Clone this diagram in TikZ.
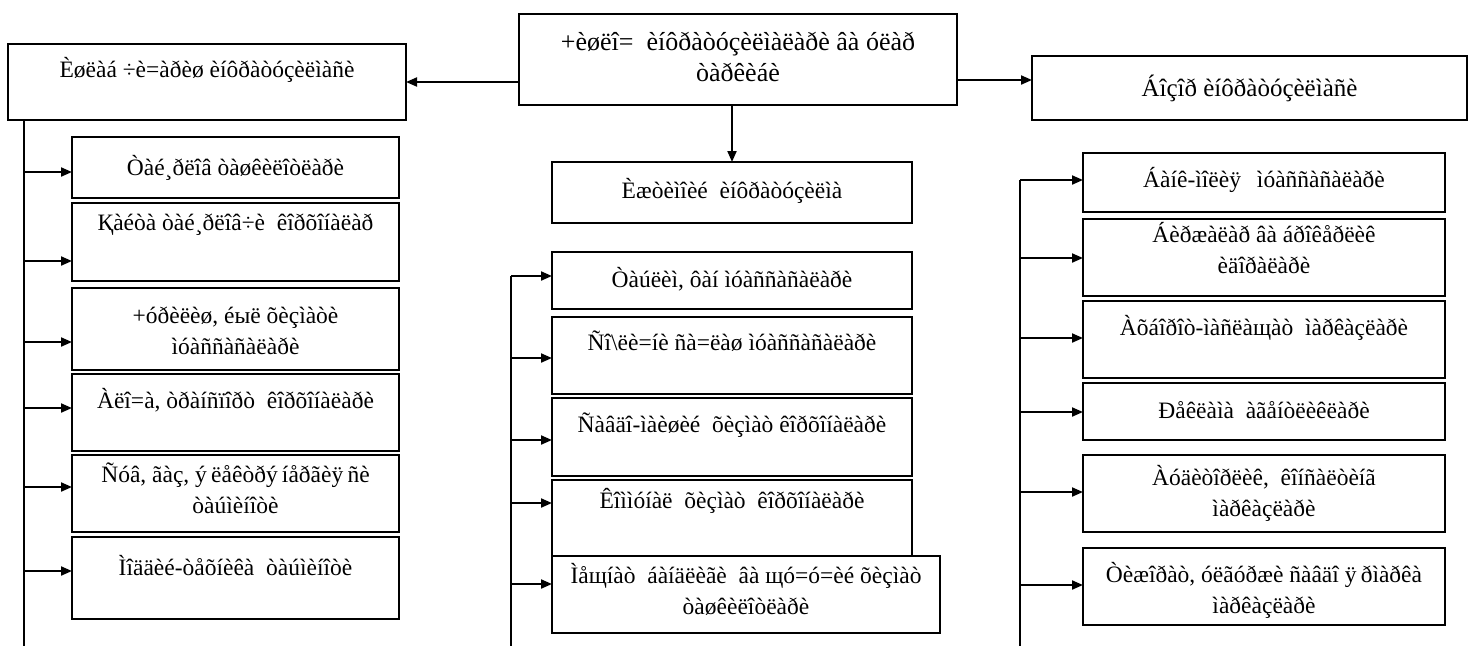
\documentclass[tikz,border=0pt]{standalone}
\usepackage{fontspec}
\setmainfont{Liberation Serif}
\usetikzlibrary{arrows.meta}
\tikzset{
  box/.style={draw, line width=2pt, inner sep=0pt, outer sep=0pt, anchor=north west},
  link/.style={line width=2pt},
  arr/.style={link, -{Triangle[length=11pt,width=9pt]}},
}
% box: [font size], name, left, top, width, height, first baseline below top, text
\newcommand\bx[8][23.5]{%
  \node[box] (#2) at (#3,#4)
    {\parbox[c][#6pt][t]{#5pt}{\fontsize{#1}{31}\selectfont\centering
      \vspace*{\dimexpr#7pt-0.7\baselineskip\relax}\strut #8\par}};}
% slightly wider y-acute / y-dieresis
\newcommand\yy[1]{#1\kern0.18em}
\begin{document}
\begin{tikzpicture}[x=1pt,y=-1pt]
\useasboundingbox (0,0) rectangle (1473,646);

% header row
\bx[26]{top}{519}{14}{438}{91}{36}{+èøëî=~ èíôðàòóçèëìàëàðè âà óëàð\\òàðêèáè}
\bx{lh}{8}{44}{398}{76}{33}{Èøëàá ÷è=àðèø èíôðàòóçèëìàñè}
\bx[25]{rh}{1032}{56}{435}{64}{40}{Áîçîð èíôðàòóçèëìàñè}

% left column
\bx{l1}{72}{137}{327}{61}{38}{Òàé¸ðëîâ òàøêèëîòëàðè}
\bx{l2}{72}{203}{327}{78}{27}{Қàéòà òàé¸ðëîâ÷è~ êîðõîíàëàð}
\bx{l3}{72}{288}{327}{82}{35}{+óðèëèø, éыë õèçìàòè\\ìóàññàñàëàðè}
\bx{l4}{72}{374}{327}{77}{34}{Àëî=à, òðàíñïîðò~ êîðõîíàëàðè}
\bx{l5}{72}{455}{327}{77}{27}{Ñóâ, ãàç, \yy{ý}ëåêòð\yy{ý}íåðãè\yy{ÿ}ñè\\òàúìèíîòè}
\bx{l6}{72}{537}{327}{82}{38}{Ìîääèé-òåõíèêà~ òàúìèíîòè}

% centre column
\bx{ij}{552}{162}{360}{61}{36}{Èæòèìîèé~ èíôðàòóçèëìà}
\bx{c1}{552}{252}{360}{57}{35}{Òàúëèì, ôàí ìóàññàñàëàðè}
\bx{c2}{552}{317}{360}{77}{33}{Ñî\textbackslash ëè=íè ñà=ëàø ìóàññàñàëàðè}
\bx{c3}{552}{398}{360}{78}{34}{Ñàâäî-ìàèøèé~ õèçìàò êîðõîíàëàðè}
\bx{c4}{552}{480}{360}{76}{28}{Êîììóíàë~ õèçìàò~ êîðõîíàëàðè}
\bx{c5}{552}{556}{388}{77}{27}{Ìåщíàò~ áàíäëèãè~ âà щó=ó=èé õèçìàò\\òàøêèëîòëàðè}

% right column
\bx{r1}{1083}{153}{362}{59}{34}{Áàíê-ìîëè\yy{ÿ}~ ìóàññàñàëàðè}
\bx{r2}{1083}{219}{362}{77}{23}{Áèðæàëàð âà áðîêåðëèê\\èäîðàëàðè}
\bx{r3}{1083}{301}{362}{77}{34}{Àõáîðîò-ìàñëàщàò~ ìàðêàçëàðè}
\bx{r4}{1083}{383}{362}{57}{35}{Ðåêëàìà~ àãåíòëèêëàðè}
\bx{r5}{1083}{455}{362}{77}{30}{Àóäèòîðëèê,~ êîíñàëòèíã\\ìàðêàçëàðè}
\bx{r6}{1083}{548}{362}{77}{34}{Òèæîðàò, óëãóðæè ñàâäî \yy{ÿ}ðìàðêà\\ìàðêàçëàðè}

% header connectors
\coordinate (tl) at (519,82);
\coordinate (tr) at (957,80);
\draw[arr] (tl) -- (lh.east |- tl);
\draw[arr] (tr) -- (rh.west |- tr);
\draw[arr] (ij.north |- top.south) -- (ij.north);

% trunks
\coordinate (lb) at (24,646);
\coordinate (ct) at (511,276);
\coordinate (cb) at (511,646);
\coordinate (rt) at (1020,180);
\coordinate (rb) at (1020,646);
\draw[link] (lh.south -| lb) -- (lb);
\draw[link] (ct) -- (cb);
\draw[link] (rt) -- (rb);

% branches
\foreach \n/\y in {l1/172,l2/261,l3/342,l4/408,l5/487,l6/571}
  \draw[arr] (lb |- 0,\y) -- (\n.west |- 0,\y);
\foreach \n/\y in {c1/276,c2/358,c3/440,c4/503,c5/584}
  \draw[arr] (cb |- 0,\y) -- (\n.west |- 0,\y);
\foreach \n/\y in {r1/180,r2/258,r3/338,r4/412,r5/492,r6/585}
  \draw[arr] (rb |- 0,\y) -- (\n.west |- 0,\y);
\end{tikzpicture}
\end{document}
